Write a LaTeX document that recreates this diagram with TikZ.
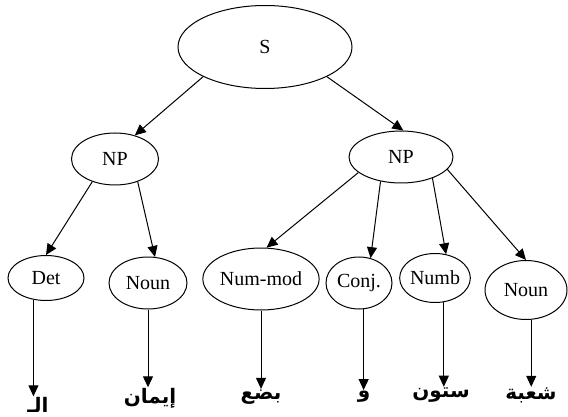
\documentclass[tikz,border=0pt]{standalone}
\usepackage{fontspec}
\setmainfont{Liberation Serif}
\newfontfamily\arabicfont[Script=Arabic]{DejaVu Sans}
\TeXXeTstate=1
\usetikzlibrary{shapes.geometric, arrows.meta}

\begin{document}
\begin{tikzpicture}[x=1pt, y=-1pt, line width=1pt,
  tag/.style={draw, ellipse, inner sep=0pt, font=\fontsize{20}{22}\selectfont},
  word/.style={anchor=base, inner sep=0pt, font=\arabicfont\bfseries\fontsize{20}{22}\selectfont},
  link/.style={-{Triangle[length=11pt,width=10pt]}}]
\useasboundingbox (0,0) rectangle (568,417);

% sentence and noun phrases
\node[tag, minimum width=174, minimum height=83] (s) at (265,47) {S};
\node[tag, minimum width=87, minimum height=52] (npl) at (115,159) {NP};
\node[tag, minimum width=104, minimum height=52] (npr) at (401,157) {NP};
\draw[link] (s.south west) -- (npl.50);
\draw[link] (s.south east) -- (npr.85);

% word classes
\node[tag, minimum width=76, minimum height=45] (det) at (46,278) {Det};
\node[tag, minimum width=78, minimum height=52] (nounl) at (148,283) {Noun};
\node[tag, minimum width=114, minimum height=62] (nummod) at (261,279) {Num-mod};
\node[tag, minimum width=66, minimum height=52] (conj) at (359,283) {Conj.};
\node[tag, minimum width=64, minimum height=49] (numb) at (435,278) {Numb};
\node[tag, minimum width=82, minimum height=59] (nounr) at (526,290) {Noun};
\draw[link] (npl.225) -- (det.north);
\draw[link] (npl.-45) -- (nounl.75);
\draw[link] (npr.200) -- (nummod.80);
\draw[link] (npr.230) -- (conj.65);
\draw[link] (npr.-34) -- (numb.65);
\draw[link] (npr.-15) -- (nounr.north);

% arabic words
\node[word] (wal) at (38,412) {\beginR الـ\endR};
\node[word] (wiman) at (150,403) {\beginR إيمان\endR};
\node[word] (wbid) at (261,399) {\beginR بضع\endR};
\node[word] (wwa) at (364,397) {\beginR و\endR};
\node[word] (wsittun) at (441,397) {\beginR ستون\endR};
\node[word] (wshuba) at (531,399) {\beginR شعبة\endR};
\draw[link] (det.240) -- (det.240 |- wal.north);
\draw[link] (nounl.south) -- (nounl.south |- wiman.north);
\draw[link] (nummod.south) -- (nummod.south |- wbid.north);
\draw[link] (conj.280) -- (conj.280 |- wwa.north);
\draw[link] (numb.290) -- (numb.290 |- wsittun.north);
\draw[link] (nounr.280) -- (nounr.280 |- wshuba.north);
\end{tikzpicture}
\end{document}
